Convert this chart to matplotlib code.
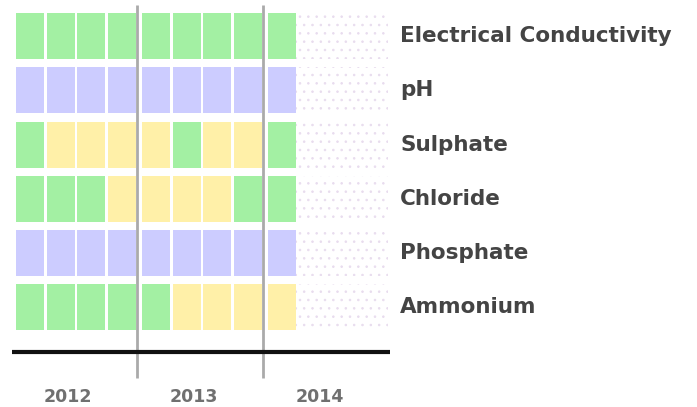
import matplotlib
matplotlib.use("Agg")
import matplotlib.pyplot as plt
from matplotlib.patches import Rectangle

# Data
years = ["2012", "2013", "2014"]
parameters = ["Electrical Conductivity", "pH", "Sulphate", "Chloride", "Phosphate", "Ammonium"]

# status per quarter (2012 Q1 .. 2014 Q1), G = good, B = blue/neutral, Y = warning
status = {
    "Electrical Conductivity": ["G", "G", "G", "G", "G", "G", "G", "G", "G"],
    "pH":                      ["B", "B", "B", "B", "B", "B", "B", "B", "B"],
    "Sulphate":                ["G", "Y", "Y", "Y", "Y", "G", "Y", "Y", "G"],
    "Chloride":                ["G", "G", "G", "Y", "Y", "Y", "Y", "G", "G"],
    "Phosphate":               ["B", "B", "B", "B", "B", "B", "B", "B", "B"],
    "Ammonium":                ["G", "G", "G", "G", "G", "Y", "Y", "Y", "Y"],
}
colors = {"G": "#a3f0a3", "B": "#ccccff", "Y": "#fff0a8"}

# layout (in quarter / row units)
qpx = 30.5          # pixels per quarter
rpx = 54.3          # pixels per row
x0, y0 = 16, 13     # pixel origin of first cell
cell_w = 28 / qpx
cell_h = 46 / rpx
year_gap = 4 / qpx

fig = plt.figure(figsize=(6.97, 4.07), dpi=100)
ax = fig.add_axes([0, 0, 1, 1])
ax.set_xlim(-x0 / qpx, (697 - x0) / qpx)
ax.set_ylim((407 - y0) / rpx, -y0 / rpx)
ax.axis("off")
plt.rcParams["hatch.linewidth"] = 0.6


def qx(i):
    # left edge of quarter i
    return i + (i // 4) * year_gap


for r, p in enumerate(parameters):
    vals = status[p]
    for i, s in enumerate(vals):
        ax.add_patch(Rectangle((qx(i), r), cell_w, cell_h, facecolor=colors[s],
                               edgecolor="none"))
    # remaining quarters without data
    start = qx(len(vals) - 1) + cell_w
    end = qx(11) + cell_w
    ax.add_patch(Rectangle((start, r), end - start, cell_h, facecolor="white",
                           edgecolor="#e8dcee", hatch="..", linewidth=0))
    ax.text((400 - x0) / qpx, r + cell_h / 2, p, fontsize=15.5, fontweight="bold",
            color="#444444", va="center", ha="left")

# year separators
for y in range(1, len(years)):
    xs = (qx(4 * y - 1) + cell_w + qx(4 * y)) / 2 - 1.5 / qpx
    ax.plot([xs, xs], [(5 - y0) / rpx, (378 - y0) / rpx], color="#aaaaaa", lw=2,
            solid_capstyle="butt")

# baseline
ax.plot([(12 - x0) / qpx, (390 - x0) / qpx], [(352 - y0) / rpx] * 2, color="#111111",
        lw=3, solid_capstyle="butt")

# year labels
for k, yr in enumerate(years):
    xc = (qx(4 * k) + qx(4 * k + 3) + cell_w) / 2 - 8 / qpx
    ax.text(xc, (397 - y0) / rpx, yr, fontsize=12.5, fontweight="bold", color="#707070",
            ha="center", va="center")

fig.savefig("out.png", dpi=100)
